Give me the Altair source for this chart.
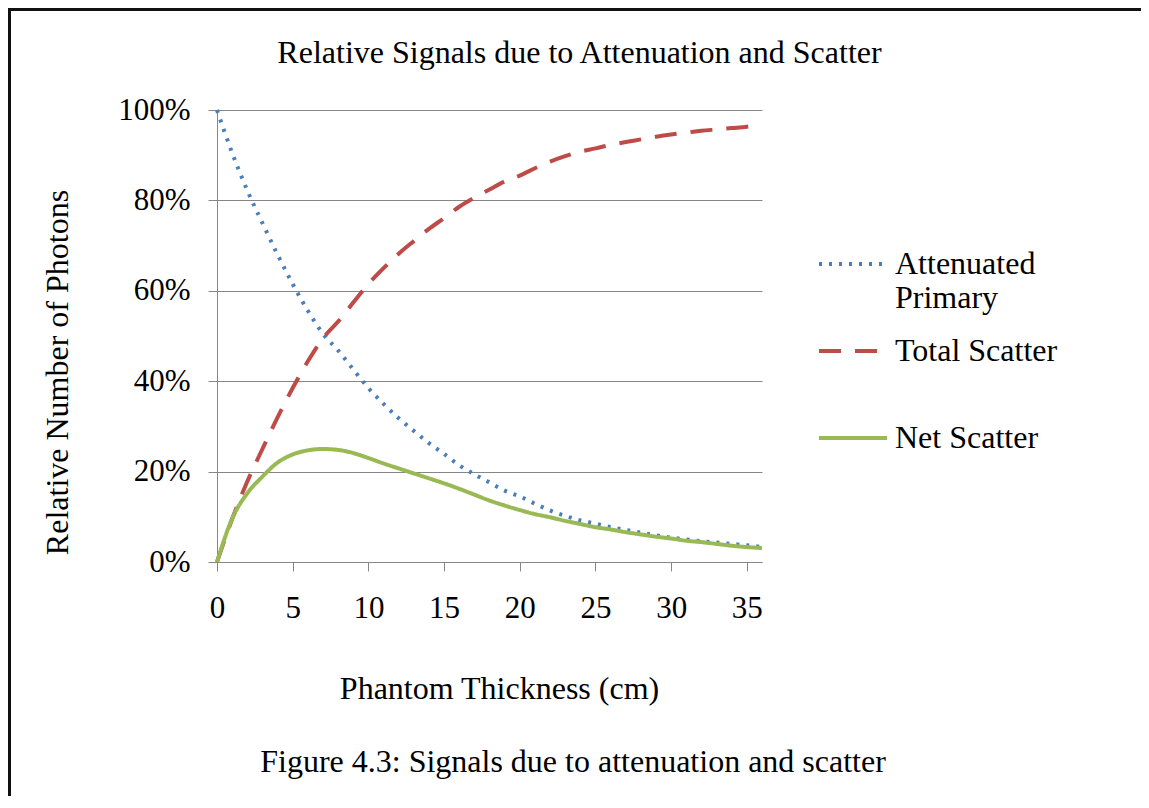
import altair as alt
import pandas as pd

# ---- data ----
thickness = list(range(0, 37))
attenuated_primary = [100, 90.5, 82.2, 75.0, 68.0, 61.5, 55.6, 50.5, 46.8, 42.6,
                      38.5, 35.0, 31.8, 29.0, 26.3, 23.9, 21.4, 19.4, 17.6, 15.8,
                      14.5, 12.9, 11.4, 10.2, 9.2, 8.5, 7.7, 7.1, 6.5, 5.9,
                      5.4, 5.0, 4.6, 4.3, 4.0, 3.7, 3.3]
total_scatter = [0, 9.5, 17.8, 25.0, 32.0, 38.5, 44.4, 49.5, 53.2, 57.4,
                 61.5, 65.0, 68.2, 71.0, 73.7, 76.1, 78.6, 80.6, 82.4, 84.2,
                 85.5, 87.1, 88.6, 89.8, 90.8, 91.5, 92.3, 92.9, 93.5, 94.1,
                 94.6, 95.0, 95.4, 95.7, 96.0, 96.3, 96.7]
net_scatter = [0, 9.6, 15.2, 18.9, 22.0, 23.8, 24.7, 25.0, 24.8, 24.1,
               23.0, 21.8, 20.7, 19.6, 18.5, 17.4, 16.2, 14.9, 13.6, 12.5,
               11.5, 10.6, 9.9, 9.1, 8.4, 7.7, 7.2, 6.6, 6.1, 5.6,
               5.2, 4.7, 4.4, 4.0, 3.6, 3.3, 3.1]
series_names = ["Attenuated Primary", "Total Scatter", "Net Scatter"]
series_colors = ["#4A7EBB", "#BE4B48", "#98B954"]
x_ticks = [0, 5, 10, 15, 20, 25, 30, 35]
y_ticks = [0, 0.2, 0.4, 0.6, 0.8, 1.0]

title_text = "Relative Signals due to Attenuation and Scatter"
caption_text = "Figure 4.3: Signals due to attenuation and scatter"
x_title = "Phantom Thickness (cm)"
y_title = "Relative Number of Photons"

rows = []
for name, vals in zip(series_names, [attenuated_primary, total_scatter, net_scatter]):
    for t, v in zip(thickness, vals):
        rows.append({"thickness": t, "value": v / 100.0, "series": name})
df = pd.DataFrame(rows)

FONT = "Liberation Serif"
W, H = 545, 452
PAD_L, PAD_T = 209, 102
TOTAL_W, TOTAL_H = 1133, 788

legend = alt.Legend(
    title=None, orient="none", legendX=600, legendY=118,
    labelFont=FONT, labelFontSize=32, labelColor="black", labelLimit=400,
    symbolType="stroke", symbolSize=4624, symbolStrokeWidth=4,
    labelOffset=6, rowPadding=1, padding=0,
    labelExpr="datum.label == 'Attenuated Primary' ? ['Attenuated', 'Primary'] : [datum.label, '']",
)

lines = alt.Chart(df).mark_line(interpolate="monotone").encode(
    x=alt.X("thickness:Q", scale=alt.Scale(domain=[0, 36], nice=False),
            axis=alt.Axis(values=x_ticks, grid=False, title=x_title, labelFlush=False,
                          titleX=282, titleY=136, titleBaseline="alphabetic",
                          titleAlign="center", titleAnchor=None)),
    y=alt.Y("value:Q", scale=alt.Scale(domain=[0, 1], nice=False),
            axis=alt.Axis(values=y_ticks, format=".0%", grid=True, title=y_title,
                          labelFlush=False,
                          titleX=-150, titleY=262, titleBaseline="alphabetic",
                          titleAlign="center", titleAngle=-90)),
    color=alt.Color("series:N", scale=alt.Scale(domain=series_names, range=series_colors),
                    sort=series_names, legend=legend),
    strokeDash=alt.StrokeDash("series:N", scale=alt.Scale(domain=series_names,
                              range=[[3, 7], [22, 14], [1, 0]]),
                              sort=series_names, legend=legend),
    strokeWidth=alt.StrokeWidth("series:N", scale=alt.Scale(domain=series_names,
                                range=[4, 4, 4.5]), legend=None),
)

one = pd.DataFrame({"k": [0]})
title_mark = alt.Chart(one).mark_text(font=FONT, fontSize=32, color="black",
                                      align="center", baseline="alphabetic").encode(
    x=alt.value(362.5), y=alt.value(-47), text=alt.value(title_text))
caption_mark = alt.Chart(one).mark_text(font=FONT, fontSize=32, color="black",
                                        align="center", baseline="alphabetic").encode(
    x=alt.value(356), y=alt.value(662), text=alt.value(caption_text))
frame_top = alt.Chart(one).mark_rule(stroke="#111111", strokeWidth=3).encode(
    x=alt.value(-PAD_L), x2=alt.value(TOTAL_W - PAD_L), y=alt.value(-PAD_T + 1.5))
frame_left = alt.Chart(one).mark_rule(stroke="#111111", strokeWidth=3).encode(
    x=alt.value(-PAD_L + 1.5), y=alt.value(-PAD_T), y2=alt.value(TOTAL_H - PAD_T))

chart = alt.layer(frame_top, frame_left, lines, title_mark, caption_mark).properties(
    width=W, height=H,
    autosize=alt.AutoSizeParams(type="none"),
    padding={"left": PAD_L, "top": PAD_T, "right": TOTAL_W - PAD_L - W,
             "bottom": TOTAL_H - PAD_T - H},
).configure_view(stroke=None).configure_axis(
    labelFont=FONT, labelFontSize=31, labelColor="black",
    titleFont=FONT, titleFontSize=32, titleColor="black", titleFontWeight="normal",
    domainColor="#868686", tickColor="#868686", gridColor="#868686",
    domainWidth=1, tickWidth=1, gridWidth=1, tickSize=9,
).configure_axisX(labelPadding=22).configure_axisY(labelPadding=18)

chart.save("out.html", embed_options={"renderer": "svg", "actions": False})
